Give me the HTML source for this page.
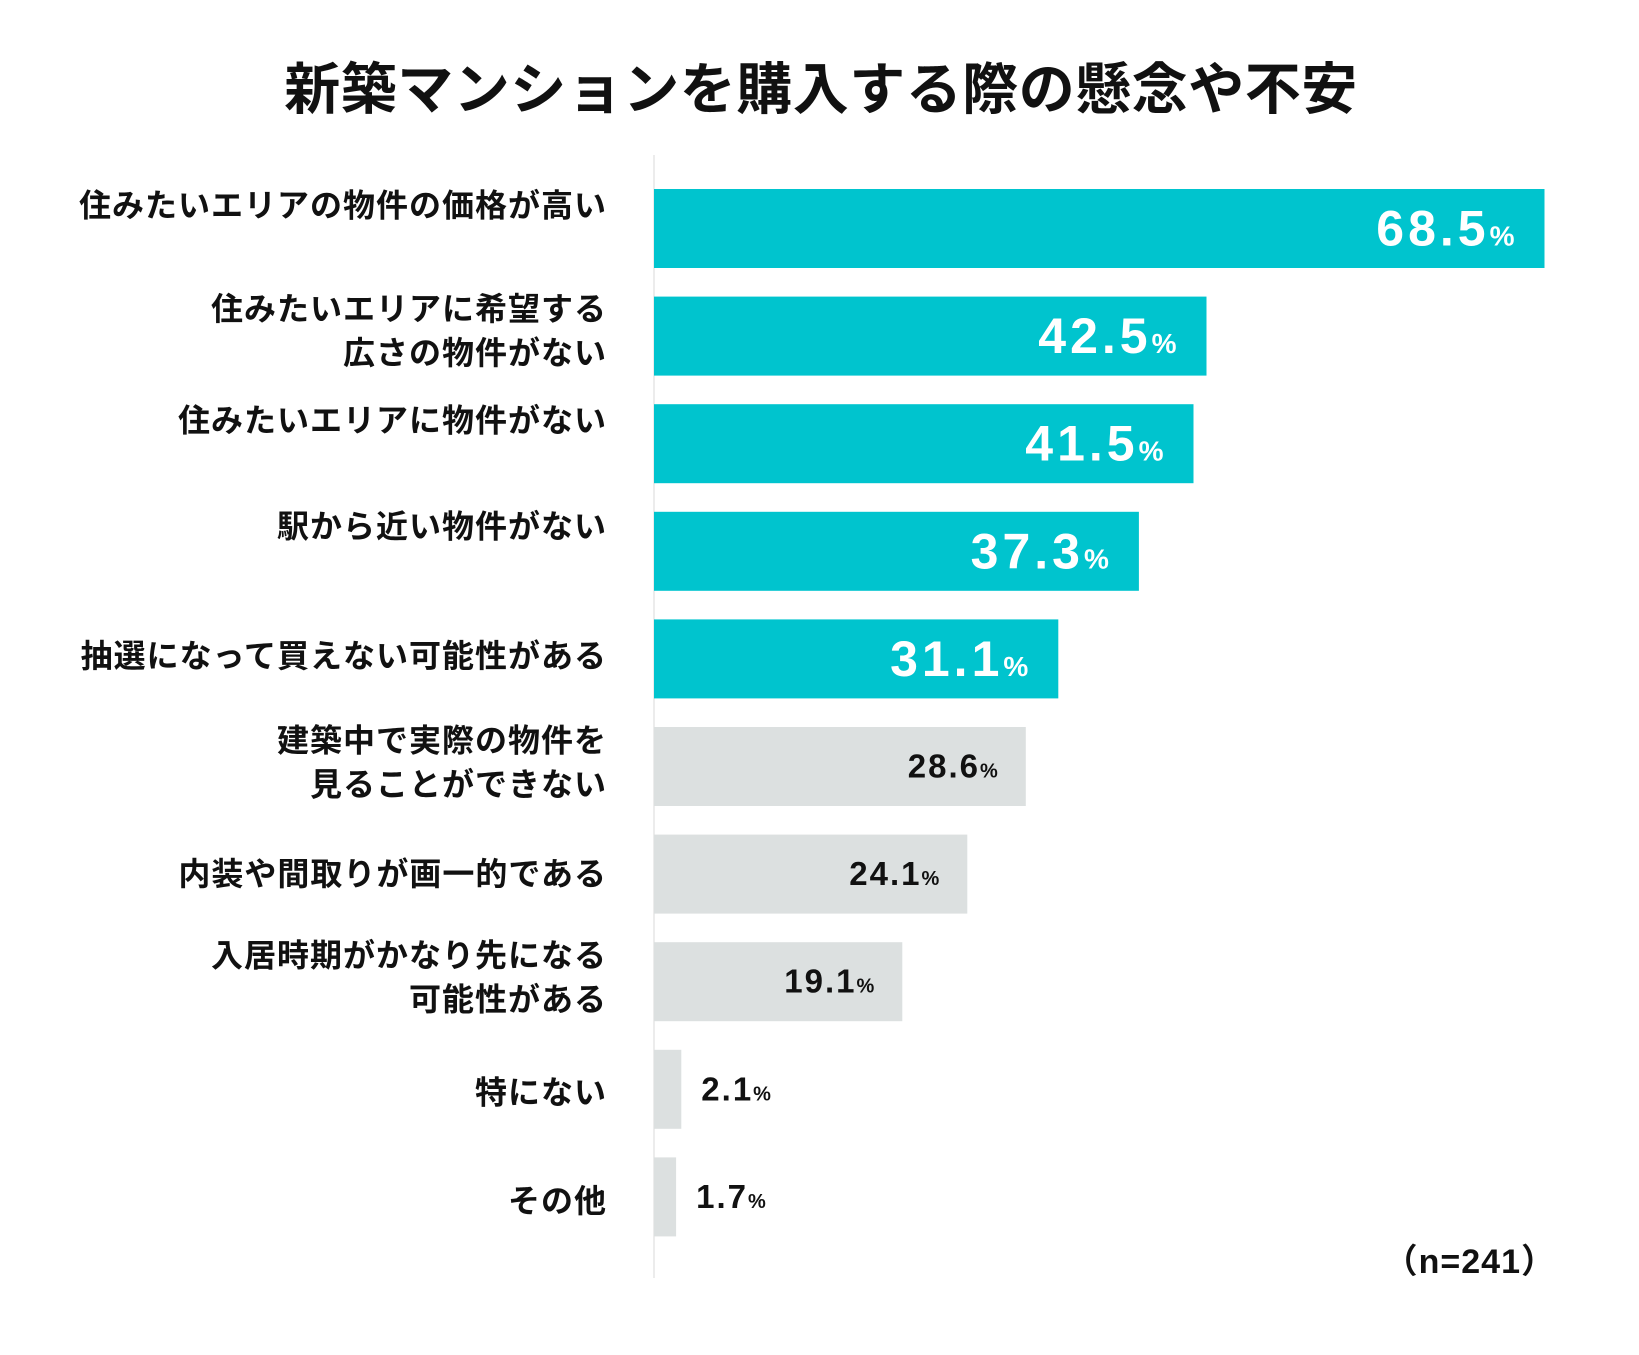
<!DOCTYPE html>
<html><head><meta charset="utf-8"><style>
body{margin:0;background:#fff;}
svg text{font-family:"Liberation Sans","Noto Sans CJK JP",sans-serif;}
</style></head><body>
<svg id="chart" width="1639" height="1350" viewBox="0 0 1639 1350">
<text x="821" y="109" text-anchor="middle" font-size="56" font-weight="bold" fill="#111" letter-spacing="0.5">新築マンションを購入する際の懸念や不安</text>
<line x1="654" y1="155" x2="654" y2="1278" stroke="#e6e6e6" stroke-width="1.5"/>
<g id="bars"></g>
<text x="1556" y="1273" text-anchor="end" font-size="34" font-weight="bold" fill="#111" letter-spacing="1">（n=241）</text>
</svg>
<script>
const categories = [
 ["住みたいエリアの物件の価格が高い"],
 ["住みたいエリアに希望する","広さの物件がない"],
 ["住みたいエリアに物件がない"],
 ["駅から近い物件がない"],
 ["抽選になって買えない可能性がある"],
 ["建築中で実際の物件を","見ることができない"],
 ["内装や間取りが画一的である"],
 ["入居時期がかなり先になる","可能性がある"],
 ["特にない"],
 ["その他"]
];
const values = [68.5,42.5,41.5,37.3,31.1,28.6,24.1,19.1,2.1,1.7];
const highlighted = [true,true,true,true,true,false,false,false,false,false];
const labelShift = [-23,-4,-23,-25,-3,-3,0,-3,3,4];

const NS="http://www.w3.org/2000/svg";
const x0=654, pxPer=13.0, top0=189, pitch=107.6, barH=79;
const xScale=v=>v*pxPer;
const yPos=i=>top0+i*pitch;
const g=document.getElementById('bars');
function mk(t,attrs){const e=document.createElementNS(NS,t);for(const k in attrs)e.setAttribute(k,attrs[k]);return e;}
values.forEach((v,i)=>{
  const y=yPos(i), w=xScale(v), hi=highlighted[i];
  const r=mk('rect',{x:x0,y:y,width:w,height:barH,fill:hi?'#00C4CE':'#DCE0E0'});
  
  
  g.appendChild(r);
  const lines=categories[i];
  const lab=mk('text',{'text-anchor':'end','font-size':32,'font-weight':'bold',fill:'#111','letter-spacing':1});
  
  
  const cy=y+barH/2+labelShift[i];
  lines.forEach((s,j)=>{
    const ts=mk('tspan',{x:607,y:(lines.length===1?cy+11:cy-12+j*44)});
    ts.textContent=s;lab.appendChild(ts);
  });
  g.appendChild(lab);
  const bcy=y+barH/2;
  const vt=mk('text',{'font-weight':'bold'});
  
  
  const num=mk('tspan',{});num.textContent=v.toFixed(1);
  const pct=mk('tspan',{});pct.textContent='%';
  if(hi){
    vt.setAttribute('x',x0+w-26);vt.setAttribute('y',bcy+17);vt.setAttribute('text-anchor','end');vt.setAttribute('fill','#fff');
    vt.setAttribute('letter-spacing','4');
    num.setAttribute('font-size',50);pct.setAttribute('font-size',28);
  } else if(v>10){
    vt.setAttribute('x',x0+w-26);vt.setAttribute('y',bcy+11);vt.setAttribute('text-anchor','end');vt.setAttribute('fill','#111');
    vt.setAttribute('letter-spacing','2');
    num.setAttribute('font-size',33);pct.setAttribute('font-size',20);
  } else {
    vt.setAttribute('x',x0+w+20);vt.setAttribute('y',bcy+11);vt.setAttribute('fill','#111');
    vt.setAttribute('letter-spacing','2');
    num.setAttribute('font-size',33);pct.setAttribute('font-size',20);
  }
  vt.appendChild(num);vt.appendChild(pct);g.appendChild(vt);
});
</script>
</body></html>
